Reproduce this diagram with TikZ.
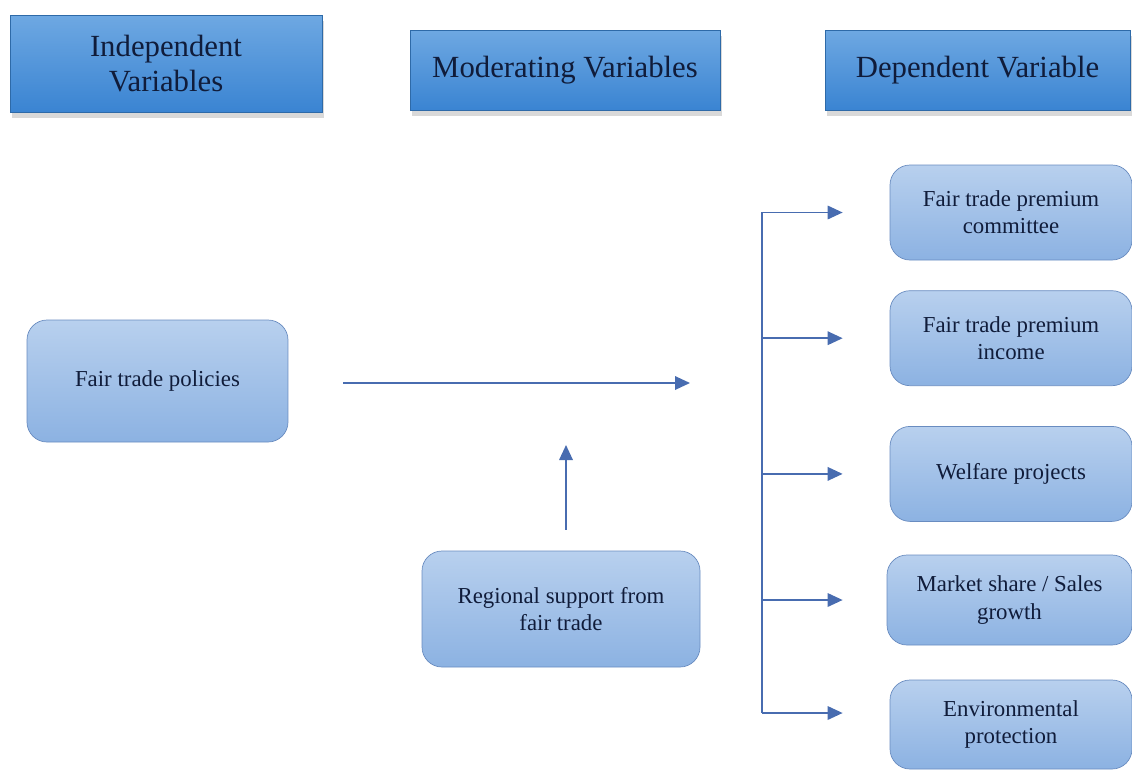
\documentclass[tikz,border=0pt]{standalone}
\usepackage{fontspec}
\setmainfont{Liberation Serif}
\usetikzlibrary{positioning,arrows.meta,shadows}
\definecolor{headtop}{RGB}{110,168,226}
\definecolor{headbot}{RGB}{58,132,210}
\definecolor{boxtop}{RGB}{184,208,238}
\definecolor{boxbot}{RGB}{140,178,226}
\definecolor{boxline}{RGB}{105,140,192}
\definecolor{flow}{RGB}{72,108,176}
\definecolor{ink}{RGB}{16,28,58}

\begin{document}
\begin{tikzpicture}[
  header/.style={draw=headbot!80!black, line width=0.3pt, top color=headtop, bottom color=headbot,
    drop shadow={shadow xshift=0.3mm, shadow yshift=-1.1mm, opacity=0.3},
    minimum width=6.2cm, minimum height=1.6cm, align=center, text=ink,
    font=\fontsize{17.5}{20}\selectfont},
  block/.style={draw=boxline, rounded corners=0.4cm, top color=boxtop, bottom color=boxbot,
    minimum width=4.84cm, minimum height=1.9cm, align=center, text=ink,
    font=\fontsize{13}{15.5}\selectfont},
  arrow/.style={-{Triangle[length=3mm, width=2.7mm]}, line width=1pt, draw=flow},
  trunkline/.style={line width=1pt, draw=flow}
]
\useasboundingbox (0,0) rectangle (22.64,-15.38);
% column headings
\node[header, minimum width=6.24cm, minimum height=1.94cm] (indep) at (3.32,-1.27) {Independent\\Variables};
\node[header] (moder) at (11.3,-1.4) {Moderating Variables};
\node[header, minimum width=6.1cm] (depen) at (19.55,-1.4) {Dependent Variable};
% left and middle
\node[block, minimum width=5.22cm, minimum height=2.44cm] (policies) at (3.15,-7.62) {Fair trade policies};
\node[block, minimum width=5.56cm, minimum height=2.32cm] (regional) at (11.22,-12.18) {Regional support from\\fair trade};
% outcomes
\node[block] (c1) at (20.22,-4.25) {Fair trade premium\\committee};
\node[block, below=0.6cm of c1] (c2) {Fair trade premium\\income};
\node[block, below=0.8cm of c2] (c3) {Welfare projects};
\node[block, minimum width=4.9cm, minimum height=1.8cm] (c4) at (20.19,-12.0) {Market share / Sales\\growth};
\node[block, minimum height=1.78cm] (c5) at (20.22,-14.49) {Environmental\\protection};
% connectors
\coordinate (hub) at (13.8,-7.66);
\coordinate (modtip) at (11.32,-8.9);
\coordinate (ttop) at (15.24,-4.24);
\coordinate (tbot) at (15.24,-14.26);
\draw[arrow, shorten <=1.1cm] (policies.east |- hub) -- (hub);
\draw[arrow, shorten <=0.42cm] (regional.north -| modtip) -- (modtip);
\draw[trunkline] (ttop) -- (tbot);
\foreach \c in {c1,c2,c3}
  \draw[arrow, shorten >=0.94cm] (ttop |- \c.west) -- (\c.west);
\draw[arrow, shorten >=0.88cm] (ttop |- c4.west) -- (c4.west);
\draw[arrow, shorten >=0.94cm] (tbot) -- (tbot -| c5.west);
\end{tikzpicture}
\end{document}
